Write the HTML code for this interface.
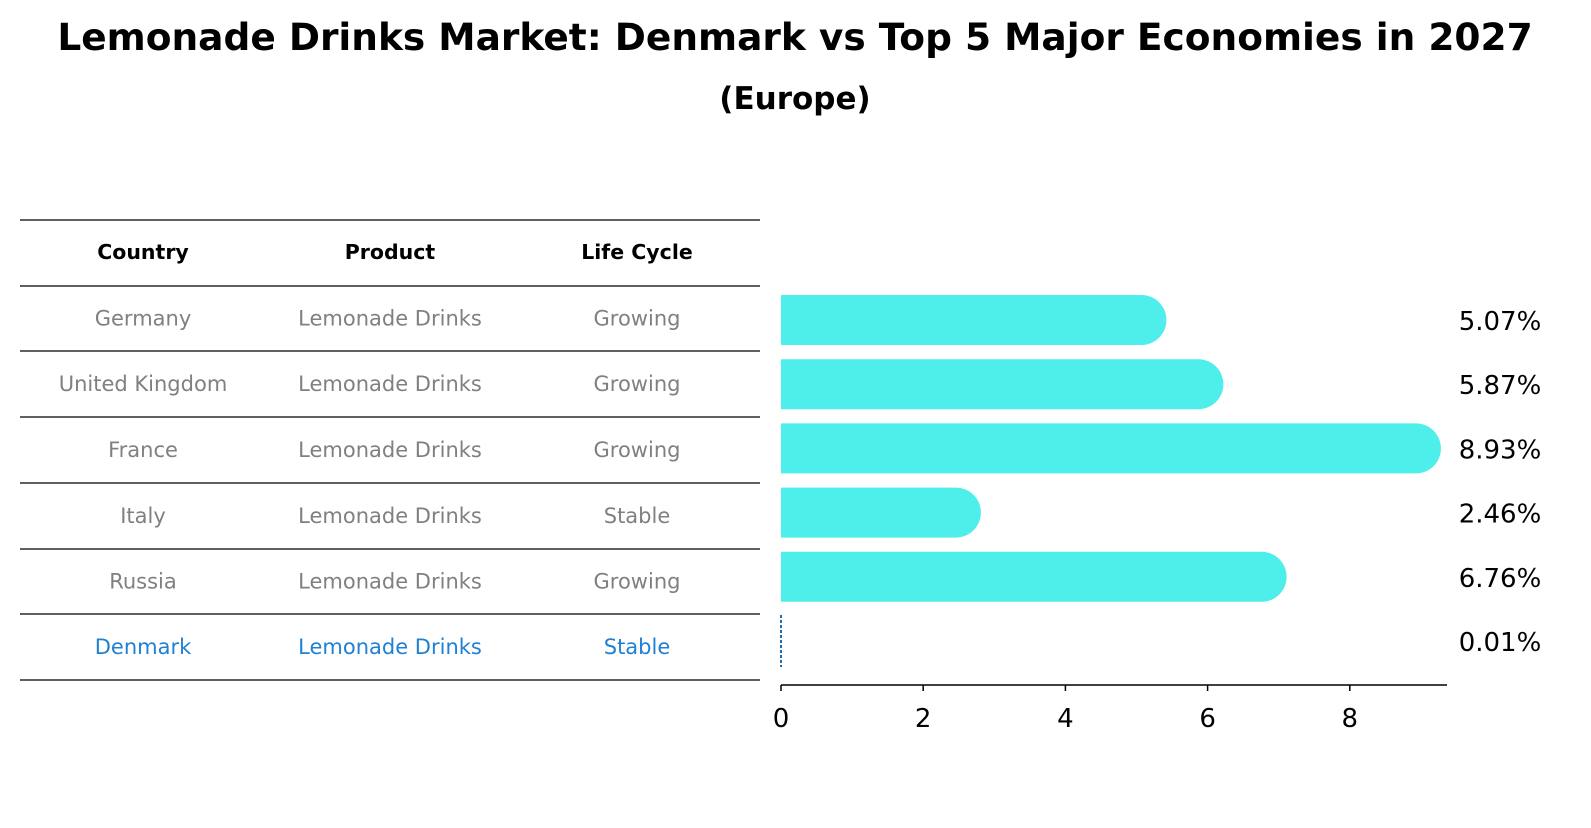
<!DOCTYPE html>
<html><head><meta charset="utf-8"><style>
body{margin:0;background:#fff;font-family:"Liberation Sans","DejaVu Sans",sans-serif}
</style></head><body>
<svg width="1591" height="823" viewBox="0 0 1591 823" xmlns="http://www.w3.org/2000/svg">
<text x="795" y="50" text-anchor="middle" font-size="37.5" font-weight="bold" font-family="DejaVu Sans, sans-serif">Lemonade Drinks Market: Denmark vs Top 5 Major Economies in 2027</text>
<text x="795" y="109" text-anchor="middle" font-size="31" font-weight="bold" font-family="DejaVu Sans, sans-serif">(Europe)</text>
<g id="table"></g>
<g id="bars"></g>
</svg>
<script>
const countries=["Germany","United Kingdom","France","Italy","Russia","Denmark"];
const products=["Lemonade Drinks","Lemonade Drinks","Lemonade Drinks","Lemonade Drinks","Lemonade Drinks","Lemonade Drinks"];
const lifeCycles=["Growing","Growing","Growing","Stable","Growing","Stable"];
const values=[5.07,5.87,8.93,2.46,6.76,0.01];
const valueLabels=["5.07%","5.87%","8.93%","2.46%","6.76%","0.01%"];
const ticks=[0,2,4,6,8];
const NS="http://www.w3.org/2000/svg";
function mk(tag,attrs,parent,text){const e=document.createElementNS(NS,tag);for(const k in attrs)e.setAttribute(k,attrs[k]);if(text!==undefined)e.textContent=text;parent.appendChild(e);return e;}
const tbl=document.getElementById('table');
const lineYs=[220,286,351,417,483,549,614,680];
const colX=[143,390,637];
lineYs.forEach((y,i)=>{const l=mk('line',{x1:20,x2:760,y1:y,y2:y,stroke:'#000','stroke-width':1.2},tbl);

});
["Country","Product","Life Cycle"].forEach((h,i)=>{const t=mk('text',{x:colX[i],y:259,'text-anchor':'middle','font-size':20.5,'font-weight':'bold','font-family':'DejaVu Sans, sans-serif'},tbl,h);

});
countries.forEach((c,i)=>{const y=(lineYs[i+1]+lineYs[i+2])/2+7;const col=i===countries.length-1?'#1f80d4':'#808080';
[c,products[i],lifeCycles[i]].forEach((v,j)=>{const t=mk('text',{x:colX[j],y:y,'text-anchor':'middle','font-size':21,fill:col,'font-family':'DejaVu Sans, sans-serif'},tbl,v);

});});
const bars=document.getElementById('bars');
const x0=781,pxPer=71.1;const xs=v=>x0+v*pxPer;
const rowY=i=>320+i*64.2;const bh=50;
values.forEach((v,i)=>{const cy=rowY(i);
if(v<0.1){const l=mk('line',{x1:x0,x2:x0,y1:cy-26,y2:cy+26,stroke:'#1f6fb4','stroke-width':2,'stroke-dasharray':'3,2'},bars);

}
else{const w=xs(v)-x0;const p=mk('path',{d:`M${x0},${cy-bh/2} H${x0+w} A${bh/2},${bh/2} 0 0 1 ${x0+w},${cy+bh/2} H${x0} Z`,fill:'#4eeeea'},bars);

}
const t=mk('text',{x:1500,y:cy+10,'text-anchor':'middle','font-size':26,'font-family':'DejaVu Sans, sans-serif'},bars,valueLabels[i]);

});
const ax=mk('line',{x1:x0,x2:1447,y1:685,y2:685,stroke:'#000','stroke-width':1.5},bars);


ticks.forEach(t=>{const x=xs(t);const l=mk('line',{x1:x,x2:x,y1:685,y2:691,stroke:'#000','stroke-width':1.5},bars);


const tx=mk('text',{x:x,y:727,'text-anchor':'middle','font-size':26,'font-family':'DejaVu Sans, sans-serif'},bars,String(t));

});
</script>
</body></html>
